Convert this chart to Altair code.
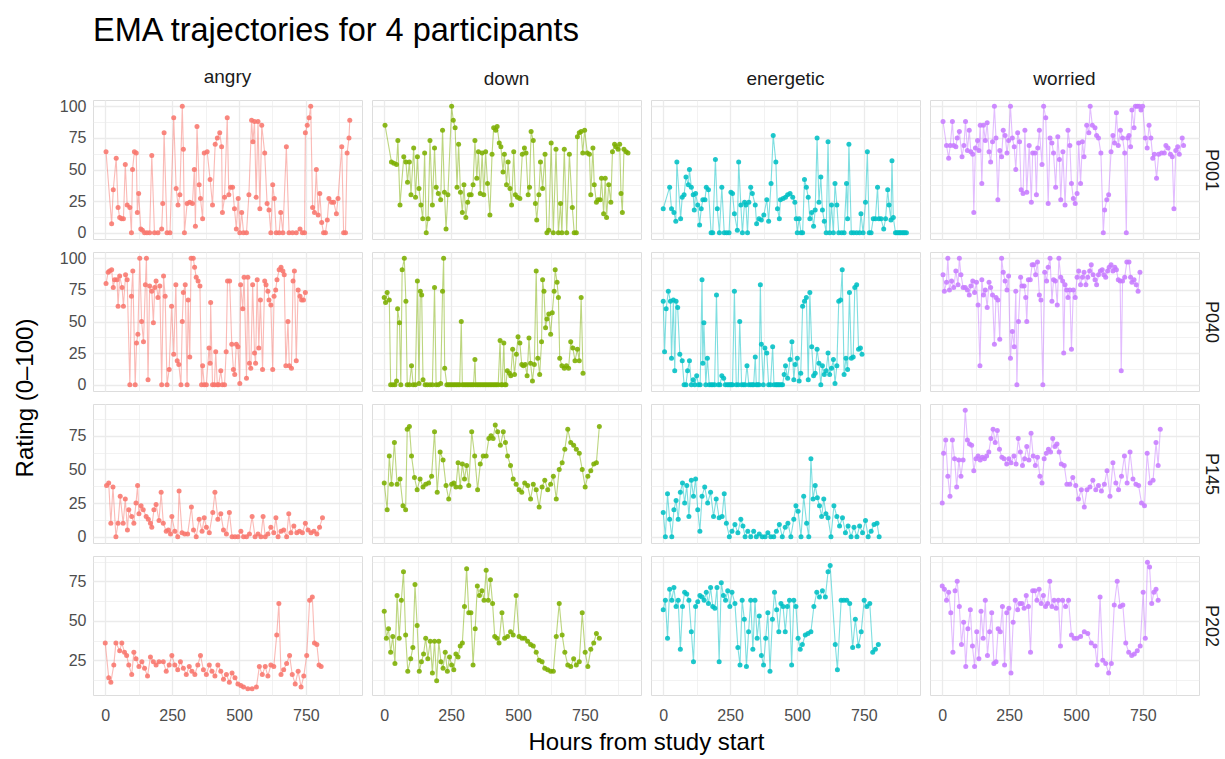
import altair as alt
import pandas as pd

FONT = "Liberation Sans"
participants = ["P001", "P040", "P145", "P202"]
emotions = ["angry", "down", "energetic", "worried"]
colors = ["#F8766D", "#7CAE00", "#00BFC4", "#C77CFF"]

# (hour, rating) pairs
p001_angry = [(3,64),(24,7),(30,34),(41,59),(48,20),(54,12),(61,11),(68,11),(75,54),(82,22),(92,20),(98,0),(102,50),(109,64),(116,63),(120,16),(125,31),(133,3),(139,2),(147,0),(156,0),(166,0),(174,61),(184,0),(197,0),(211,3),(215,23),(220,79),(231,0),(242,0),(256,91),(265,35),(272,22),(279,30),(288,100),(292,66),(296,0),(306,23),(316,24),(326,23),(333,50),(337,5),(343,84),(351,38),(356,27),(364,11),(370,63),(381,64),(392,42),(401,22),(411,70),(419,75),(428,79),(435,68),(438,16),(446,28),(456,91),(462,30),(469,36),(476,36),(483,19),(490,3),(497,27),(503,0),(510,16),(517,0),(528,0),(537,30),(547,89),(552,72),(558,88),(564,28),(571,88),(578,19),(585,85),(596,63),(605,23),(612,18),(619,0),(626,38),(632,27),(639,0),(650,0),(656,16),(664,0),(677,68),(687,0),(700,0),(714,0),(728,3),(737,0),(745,0),(748,79),(755,85),(762,91),(768,100),(775,20),(782,16),(789,50),(796,14),(802,31),(809,8),(816,0),(823,0),(830,10),(836,27),(846,24),(854,24),(864,15),(870,27),(884,68),(891,0),(898,0),(904,63),(911,75),(914,89)]
p001_down = [(3,85),(27,56),(36,55),(46,54),(51,73),(59,22),(73,60),(81,56),(87,40),(94,56),(100,30),(110,67),(117,28),(124,60),(130,35),(137,22),(144,11),(151,63),(157,0),(164,11),(171,73),(180,22),(188,67),(194,36),(202,31),(211,26),(218,81),(225,32),(231,3),(238,30),(252,100),(258,89),(265,83),(272,36),(278,70),(285,32),(292,16),(298,38),(305,12),(312,24),(318,30),(325,30),(332,38),(339,73),(346,43),(352,64),(359,31),(366,63),(372,30),(379,64),(386,39),(395,14),(403,62),(409,83),(417,81),(422,84),(430,71),(436,68),(444,48),(449,62),(457,38),(463,56),(470,35),(476,22),(484,64),(490,30),(498,28),(507,27),(516,62),(524,67),(530,63),(538,30),(543,36),(549,80),(557,73),(565,23),(570,10),(578,30),(584,56),(592,35),(601,62),(608,0),(615,2),(624,71),(632,0),(642,66),(651,0),(659,23),(664,0),(673,66),(682,0),(692,62),(703,20),(710,0),(718,0),(722,76),(729,79),(736,80),(742,63),(749,81),(759,63),(767,62),(772,30),(780,67),(785,38),(793,24),(799,26),(807,26),(812,43),(820,15),(826,43),(831,12),(839,38),(847,24),(853,64),(861,70),(866,68),(874,66),(880,70),(885,31),(890,16),(896,66),(904,64),(911,63)]
p001_energetic = [(0,19),(24,36),(31,19),(40,16),(47,9),(51,56),(65,11),(71,28),(78,30),(85,44),(94,38),(98,50),(105,36),(112,30),(116,18),(121,31),(129,22),(136,6),(142,19),(148,26),(156,26),(161,36),(169,34),(179,0),(185,0),(195,58),(202,19),(210,0),(219,36),(228,0),(237,0),(246,0),(253,32),(259,31),(266,15),(277,2),(282,56),(290,22),(296,0),(304,24),(309,22),(315,0),(320,24),(327,36),(333,31),(344,22),(349,7),(358,11),(367,10),(376,14),(387,26),(394,9),(403,39),(411,77),(421,56),(427,19),(434,11),(438,26),(448,27),(457,28),(465,30),(474,31),(484,28),(492,24),(497,11),(501,0),(508,11),(515,0),(521,0),(528,42),(535,36),(542,28),(548,11),(555,16),(562,5),(568,18),(575,75),(582,24),(589,44),(595,18),(602,9),(609,0),(616,72),(622,0),(629,22),(636,0),(642,39),(649,22),(656,0),(667,0),(676,0),(685,39),(689,11),(694,70),(703,0),(712,0),(723,0),(734,0),(739,15),(747,0),(756,24),(763,64),(770,0),(777,0),(785,11),(793,11),(801,36),(806,11),(814,11),(824,3),(831,11),(839,34),(844,22),(851,10),(855,57),(860,12),(868,0),(873,0),(878,0),(883,0),(887,0),(893,0),(898,0),(903,0),(909,0)]
p001_worried = [(3,88),(16,69),(24,59),(30,69),(38,88),(43,69),(51,68),(56,75),(64,80),(74,60),(81,69),(87,88),(94,65),(101,81),(107,64),(114,62),(118,16),(124,67),(132,73),(137,65),(142,85),(148,39),(154,85),(161,73),(168,87),(175,64),(181,56),(188,72),(195,100),(201,75),(208,26),(215,65),(222,60),(228,81),(235,77),(242,63),(248,73),(255,100),(262,75),(269,68),(275,50),(282,79),(289,72),(295,34),(302,31),(309,81),(316,32),(325,69),(333,24),(338,63),(347,63),(352,30),(357,67),(363,81),(373,54),(379,100),(387,91),(396,23),(403,75),(410,71),(416,63),(424,36),(432,76),(438,58),(443,26),(451,64),(459,22),(470,81),(477,69),(483,39),(490,27),(497,23),(504,31),(510,71),(517,39),(524,72),(530,60),(540,85),(548,79),(553,100),(561,85),(571,83),(577,77),(584,75),(593,63),(602,0),(607,18),(615,26),(622,30),(631,64),(638,77),(644,71),(651,95),(658,69),(666,81),(674,75),(682,63),(688,0),(693,75),(698,77),(704,68),(709,97),(717,83),(722,100),(729,100),(736,100),(743,97),(749,100),(759,75),(766,67),(773,85),(780,75),(787,59),(793,62),(801,43),(809,62),(820,63),(830,63),(836,69),(844,67),(853,62),(860,60),(866,19),(873,65),(880,68),(886,62),(897,75),(902,69)]

p040_angry = [(3,80),(11,89),(16,90),(24,91),(30,77),(35,83),(44,83),(48,62),(54,86),(63,77),(68,62),(76,87),(82,83),(92,0),(98,70),(103,90),(112,0),(117,33),(122,40),(129,100),(136,50),(143,34),(150,79),(154,100),(160,4),(166,78),(174,74),(180,49),(185,77),(190,82),(197,69),(204,78),(211,0),(218,86),(224,70),(231,0),(239,12),(248,62),(256,24),(264,79),(269,19),(275,16),(283,0),(288,50),(292,73),(299,79),(306,0),(310,67),(316,22),(321,100),(329,100),(334,93),(340,85),(347,82),(354,78),(360,0),(364,15),(370,0),(378,0),(388,29),(392,17),(394,65),(401,0),(408,0),(413,26),(419,0),(424,0),(432,11),(438,0),(446,0),(452,26),(457,82),(465,82),(473,32),(479,12),(484,8),(490,32),(496,30),(503,1),(506,79),(514,60),(519,85),(528,5),(533,85),(539,17),(544,13),(551,79),(558,25),(562,17),(568,83),(574,29),(580,67),(588,12),(596,82),(601,79),(608,74),(612,67),(619,63),(626,12),(631,70),(637,75),(642,83),(650,91),(657,93),(664,90),(669,87),(675,15),(683,50),(688,15),(696,13),(702,82),(707,90),(714,19),(721,75),(728,70),(734,67),(741,67),(748,73)]
p040_down = [(0,69),(5,65),(11,73),(19,67),(24,0),(32,0),(40,0),(46,3),(50,60),(57,49),(62,0),(67,91),(75,100),(81,66),(86,0),(94,0),(102,15),(108,0),(116,0),(124,82),(130,1),(135,74),(140,71),(145,4),(153,0),(161,0),(171,0),(180,0),(188,77),(194,0),(202,0),(211,1),(218,74),(222,100),(226,13),(234,0),(240,0),(246,0),(252,0),(258,0),(264,0),(270,0),(276,0),(282,0),(288,50),(292,0),(298,0),(304,0),(310,0),(316,0),(322,0),(328,0),(334,0),(339,20),(342,0),(348,0),(354,0),(360,0),(366,0),(372,0),(378,0),(384,0),(390,0),(396,0),(402,0),(408,0),(414,0),(420,0),(426,0),(433,35),(437,0),(441,0),(447,33),(451,0),(455,0),(460,11),(468,9),(473,7),(480,28),(487,8),(494,24),(500,38),(507,33),(514,16),(520,15),(527,16),(534,7),(541,37),(547,17),(554,3),(561,16),(568,90),(574,21),(581,8),(588,34),(592,83),(597,74),(603,45),(608,52),(615,56),(622,40),(628,57),(635,74),(639,91),(646,81),(651,69),(656,21),(664,15),(673,13),(681,15),(689,13),(697,34),(705,29),(713,19),(722,28),(729,19),(736,69),(743,9)]
p040_energetic = [(0,66),(5,26),(11,60),(19,74),(27,66),(31,21),(38,67),(43,11),(48,66),(54,61),(62,24),(71,19),(78,0),(85,0),(91,11),(98,19),(105,0),(112,4),(118,0),(125,7),(132,0),(138,0),(145,83),(148,17),(152,49),(159,0),(165,21),(172,0),(179,0),(185,0),(192,0),(199,71),(206,0),(212,0),(219,7),(226,5),(232,0),(239,0),(245,0),(250,0),(255,0),(259,0),(266,74),(273,0),(280,0),(286,50),(293,0),(300,0),(306,0),(313,15),(320,0),(327,0),(333,0),(338,0),(344,22),(348,0),(353,0),(358,0),(363,79),(367,32),(374,0),(380,29),(387,25),(394,0),(401,0),(409,30),(414,0),(421,0),(425,0),(430,0),(435,0),(441,0),(446,0),(452,8),(457,15),(465,5),(474,20),(481,34),(488,4),(493,16),(501,21),(508,3),(514,9),(521,62),(528,66),(535,69),(542,4),(548,73),(555,30),(562,7),(568,9),(575,28),(582,17),(589,0),(595,15),(602,8),(609,11),(616,25),(622,8),(629,13),(636,20),(642,1),(649,15),(656,66),(663,67),(669,91),(676,8),(683,21),(689,12),(696,73),(703,21),(710,22),(716,77),(723,79),(730,28),(737,29),(743,24)]
p040_worried = [(3,87),(8,74),(16,81),(21,100),(27,75),(35,82),(43,77),(51,90),(59,79),(64,100),(70,87),(78,77),(86,77),(94,75),(101,71),(107,78),(114,82),(121,73),(128,81),(134,63),(141,15),(148,83),(154,71),(161,75),(168,61),(175,81),(181,77),(188,71),(195,32),(201,69),(208,67),(215,36),(222,100),(228,89),(235,82),(242,75),(248,86),(255,21),(262,42),(269,30),(275,74),(279,0),(285,50),(293,85),(298,78),(306,78),(312,69),(316,50),(322,83),(329,83),(336,95),(342,95),(349,87),(356,97),(363,71),(369,67),(376,0),(383,89),(390,82),(396,93),(403,100),(410,66),(416,83),(423,82),(430,63),(436,100),(443,85),(450,82),(454,25),(459,79),(465,75),(470,69),(477,75),(483,28),(490,75),(497,69),(504,85),(510,90),(517,79),(524,85),(530,89),(537,79),(544,85),(551,90),(557,95),(564,87),(571,83),(577,79),(584,87),(591,90),(598,91),(604,87),(611,85),(618,90),(624,93),(631,95),(638,90),(645,93),(651,91),(658,83),(665,82),(669,11),(674,82),(682,85),(690,97),(698,97),(704,85),(709,81),(717,83),(725,79),(732,74),(739,89)]

p145_angry = [(5,38),(13,40),(21,10),(29,37),(40,0),(48,10),(56,30),(67,10),(75,28),(83,5),(88,20),(99,15),(107,10),(115,25),(121,38),(126,17),(134,23),(142,20),(153,15),(161,13),(169,10),(174,7),(182,20),(190,24),(201,12),(209,33),(217,10),(228,4),(236,5),(244,2),(249,15),(260,4),(271,0),(276,34),(287,3),(297,2),(308,2),(322,22),(330,5),(340,0),(351,13),(362,4),(370,14),(378,7),(389,3),(402,18),(410,33),(421,13),(432,17),(442,5),(453,2),(464,18),(474,0),(485,0),(496,0),(507,4),(517,0),(528,0),(539,2),(549,15),(560,0),(571,2),(582,0),(590,15),(598,0),(608,2),(619,7),(630,3),(638,14),(646,0),(657,4),(667,5),(678,0),(686,17),(694,3),(705,8),(716,3),(726,4),(737,3),(748,10),(758,5),(769,3),(780,4),(791,2),(801,7),(812,14)]
p145_down = [(0,40),(11,20),(19,60),(27,39),(38,70),(48,39),(59,43),(70,23),(80,20),(86,80),(94,82),(102,60),(113,44),(123,35),(134,43),(145,37),(155,39),(166,40),(177,45),(188,78),(198,33),(209,63),(220,57),(231,38),(241,28),(252,39),(260,40),(268,37),(276,55),(284,37),(292,54),(300,43),(308,53),(316,38),(327,78),(338,60),(349,35),(359,54),(370,60),(381,60),(391,73),(399,75),(407,73),(415,83),(424,78),(434,68),(445,78),(453,70),(461,60),(472,53),(482,43),(493,39),(504,35),(514,33),(525,40),(536,38),(547,28),(557,39),(568,35),(579,22),(590,37),(600,42),(611,35),(622,39),(632,45),(643,28),(654,50),(665,55),(675,65),(686,80),(697,70),(708,68),(718,65),(729,62),(740,50),(751,37),(761,45),(772,49),(783,54),(793,55),(804,82)]
p145_energetic = [(0,18),(8,0),(16,32),(24,13),(32,0),(40,20),(48,27),(56,13),(64,33),(72,40),(80,25),(88,38),(96,15),(105,42),(113,30),(121,43),(129,20),(137,4),(145,30),(155,37),(166,25),(177,33),(188,15),(198,28),(209,14),(220,15),(228,32),(236,10),(247,0),(257,4),(268,9),(279,3),(290,13),(298,8),(306,0),(316,4),(327,0),(338,4),(348,0),(359,2),(370,0),(381,0),(391,3),(402,0),(413,0),(423,4),(434,9),(445,0),(456,7),(466,10),(477,0),(488,13),(496,23),(504,19),(515,0),(525,30),(536,10),(544,0),(552,58),(560,28),(568,38),(576,29),(584,23),(592,15),(600,28),(608,17),(616,14),(627,0),(638,23),(649,15),(659,8),(670,14),(681,3),(691,8),(702,0),(713,7),(724,0),(734,8),(745,3),(756,12),(766,0),(777,4),(788,9),(799,10),(807,0)]
p145_worried = [(0,25),(5,62),(13,72),(21,45),(29,30),(38,72),(46,58),(54,37),(62,57),(70,45),(78,57),(86,94),(94,72),(102,69),(110,68),(118,49),(126,58),(134,60),(142,57),(150,59),(158,58),(166,60),(174,63),(182,73),(190,80),(198,70),(206,79),(214,65),(223,59),(231,58),(241,54),(249,58),(257,55),(268,60),(276,54),(284,73),(292,63),(300,53),(308,58),(316,67),(324,57),(332,77),(340,60),(348,53),(356,59),(365,45),(373,40),(381,58),(389,62),(397,65),(405,63),(413,73),(421,67),(429,69),(437,63),(445,54),(456,53),(466,39),(477,39),(488,44),(499,38),(509,28),(520,35),(531,22),(541,35),(552,37),(563,42),(574,35),(584,38),(595,34),(606,39),(616,49),(627,30),(638,55),(649,40),(659,35),(670,45),(681,60),(691,40),(702,63),(713,43),(724,39),(734,38),(745,25),(756,23),(766,62),(777,40),(788,42),(799,70),(807,53),(815,80)]

p202_angry = [(0,36),(13,14),(21,11),(32,22),(40,36),(54,31),(62,36),(72,30),(80,28),(88,22),(99,16),(107,30),(115,26),(126,21),(137,24),(147,20),(158,15),(169,27),(180,24),(190,22),(201,24),(217,24),(228,18),(239,22),(249,28),(260,22),(271,19),(281,24),(292,20),(303,16),(314,21),(324,18),(335,16),(346,22),(356,28),(367,19),(378,16),(389,22),(399,18),(410,15),(421,22),(432,18),(442,13),(453,16),(464,11),(474,17),(485,14),(496,10),(507,9),(517,8),(533,7),(549,7),(565,8),(576,21),(587,16),(598,21),(608,15),(619,22),(630,21),(641,41),(649,61),(657,16),(667,19),(678,23),(689,28),(699,16),(710,10),(721,18),(732,8),(742,15),(753,28),(764,63),(774,65),(782,36),(791,35),(799,22),(807,21)]
p202_down = [(0,56),(8,39),(16,45),(24,30),(32,40),(40,23),(48,66),(56,39),(64,63),(72,81),(80,41),(88,18),(99,26),(107,33),(115,73),(123,47),(131,18),(139,24),(147,29),(155,39),(163,26),(172,37),(180,17),(188,37),(196,12),(204,37),(212,24),(220,20),(228,30),(236,18),(244,27),(252,22),(260,19),(268,29),(276,27),(284,34),(292,36),(300,59),(308,83),(316,55),(324,55),(332,22),(340,45),(348,72),(356,66),(365,69),(373,63),(381,82),(389,63),(397,76),(405,61),(413,40),(421,39),(429,36),(440,55),(450,39),(461,40),(472,43),(482,41),(493,66),(504,40),(515,39),(525,39),(536,37),(547,35),(557,34),(568,30),(579,25),(590,24),(600,20),(611,19),(622,18),(632,18),(643,40),(654,61),(665,41),(675,30),(686,22),(697,21),(708,26),(718,22),(729,24),(740,55),(751,30),(761,21),(772,32),(783,36),(793,42),(804,39)]
p202_energetic = [(0,57),(8,63),(16,39),(24,70),(32,63),(40,71),(48,59),(56,63),(64,32),(72,59),(80,68),(88,67),(96,63),(105,43),(113,24),(121,59),(129,62),(137,66),(145,65),(153,63),(161,68),(169,61),(177,71),(185,59),(193,58),(201,71),(209,24),(217,74),(225,66),(233,63),(241,69),(249,59),(257,68),(268,61),(279,33),(287,22),(295,63),(303,51),(311,21),(319,43),(327,63),(335,32),(343,63),(351,39),(359,53),(367,28),(375,22),(383,39),(391,55),(399,18),(408,51),(416,68),(424,57),(432,43),(440,61),(448,59),(456,43),(464,59),(472,63),(480,22),(488,63),(496,59),(504,39),(512,32),(520,35),(531,41),(541,42),(552,43),(563,59),(574,68),(584,65),(595,69),(606,65),(616,81),(624,85),(643,35),(651,19),(665,63),(675,63),(686,63),(697,61),(708,33),(718,51),(729,34),(740,43),(751,63),(761,59),(772,61),(783,30),(793,32),(804,35)]
p202_worried = [(0,72),(8,70),(16,63),(24,68),(32,55),(40,30),(48,69),(56,75),(64,59),(72,35),(80,49),(88,21),(96,45),(105,57),(113,34),(121,21),(129,43),(137,26),(145,56),(153,39),(161,63),(169,28),(177,43),(185,55),(193,23),(201,24),(209,45),(217,43),(225,59),(233,22),(241,55),(249,58),(257,17),(265,49),(273,63),(282,57),(290,61),(298,61),(306,58),(314,66),(322,59),(330,30),(338,69),(346,69),(354,63),(362,70),(370,61),(378,66),(386,59),(394,61),(402,75),(410,59),(418,63),(426,58),(434,63),(442,34),(450,63),(461,59),(472,63),(483,41),(493,39),(504,39),(517,40),(531,43),(544,42),(557,36),(571,34),(579,22),(590,65),(600,25),(611,23),(622,17),(632,23),(643,60),(654,75),(665,59),(675,60),(686,36),(697,30),(708,28),(718,29),(729,31),(740,34),(751,68),(759,39),(767,87),(775,84),(783,61),(791,68),(799,70),(807,63)]

series = {
    ("P001", "angry"): p001_angry, ("P001", "down"): p001_down,
    ("P001", "energetic"): p001_energetic, ("P001", "worried"): p001_worried,
    ("P040", "angry"): p040_angry, ("P040", "down"): p040_down,
    ("P040", "energetic"): p040_energetic, ("P040", "worried"): p040_worried,
    ("P145", "angry"): p145_angry, ("P145", "down"): p145_down,
    ("P145", "energetic"): p145_energetic, ("P145", "worried"): p145_worried,
    ("P202", "angry"): p202_angry, ("P202", "down"): p202_down,
    ("P202", "energetic"): p202_energetic, ("P202", "worried"): p202_worried,
}

records = []
for (pid, emo), pts in series.items():
    for h, v in pts:
        records.append({"pid": pid, "emotion": emo, "hour": h, "rating": v})
df = pd.DataFrame(records)


def expand(lo, hi, f=0.05):
    r = hi - lo
    return [lo - f * r, hi + f * r]


xdom = expand(df.hour.min(), df.hour.max())
ydoms = {p: expand(df[df.pid == p].rating.min(), df[df.pid == p].rating.max()) for p in participants}

W, H = 269, 139
XGAP, YGAP = 10, 13
x_vals = [v for v in [0, 125, 250, 375, 500, 625, 750, 875] if xdom[0] <= v <= xdom[1]]
y_all = [i * 12.5 for i in range(9)]

gw_x = {"condition": {"test": "datum.value % 250 === 0", "value": 1.3}, "value": 0.65}
gw_y = {"condition": {"test": "datum.value % 25 === 0", "value": 1.3}, "value": 0.65}
GRID = "#ebebeb"
LABEL_COLOR = "#4d4d4d"
LABEL_SIZE = 16
AXIS_TITLE_SIZE = 24
STRIP_SIZE = 19


def cell(i, j):
    pid, emo = participants[i], emotions[j]
    d = df[(df.pid == pid) & (df.emotion == emo)]
    ylo, yhi = ydoms[pid]
    yvals = [v for v in y_all if ylo <= v <= yhi]
    ycommon = dict(grid=True, gridColor=GRID, gridWidth=gw_y, domain=False, ticks=False, values=yvals)
    if j == 0:
        if i == 1:
            ytitle = dict(title="Rating (0–100)", titleY=H + YGAP / 2, titleFont=FONT,
                          titleFontSize=AXIS_TITLE_SIZE, titleFontWeight="normal",
                          titleColor="black", titlePadding=22)
        else:
            ytitle = dict(title=None)
        yaxis = alt.Axis(orient="left", labels=True,
                         labelExpr="datum.value % 25 === 0 ? format(datum.value, 'd') : ''",
                         labelFont=FONT, labelFontSize=LABEL_SIZE, labelColor=LABEL_COLOR,
                         labelPadding=7, minExtent=34, maxExtent=34, **ytitle, **ycommon)
    elif j == 3:
        yaxis = alt.Axis(orient="right", labels=False, title=pid, titleAngle=90,
                         titleFont=FONT, titleFontSize=STRIP_SIZE - 1, titleFontWeight="normal",
                         titleColor="#1a1a1a", titlePadding=2, minExtent=0, maxExtent=0, **ycommon)
    else:
        yaxis = alt.Axis(labels=False, title=None, minExtent=0, maxExtent=0, **ycommon)

    xcommon = dict(grid=True, gridColor=GRID, gridWidth=gw_x, domain=False, ticks=False, values=x_vals)
    if i == 3:
        if j == 1:
            xtitle = dict(title="Hours from study start",
                          titleX=(4 * W + 3 * XGAP) / 2 - (W + XGAP),
                          titleFont=FONT, titleFontSize=AXIS_TITLE_SIZE, titleFontWeight="normal",
                          titleColor="black", titlePadding=7)
        else:
            xtitle = dict(title=None)
        xaxis = alt.Axis(labels=True,
                         labelExpr="datum.value % 250 === 0 ? format(datum.value, 'd') : ''",
                         labelFont=FONT, labelFontSize=LABEL_SIZE, labelColor=LABEL_COLOR,
                         labelPadding=12, **xtitle, **xcommon)
    else:
        xaxis = alt.Axis(labels=False, title=None, minExtent=0, maxExtent=0, **xcommon)

    base = alt.Chart(d).encode(
        x=alt.X("hour:Q", scale=alt.Scale(domain=xdom, nice=False, zero=False), axis=xaxis),
        y=alt.Y("rating:Q", scale=alt.Scale(domain=[ylo, yhi], nice=False, zero=False), axis=yaxis),
    )
    line = base.mark_line(color=colors[j], strokeWidth=1.1, opacity=0.5)
    pts = base.mark_circle(color=colors[j], size=25, opacity=0.88)
    ch = alt.layer(line, pts).properties(width=W, height=H)
    if i == 0:
        ch = ch.properties(title=alt.TitleParams(emo, font=FONT, fontSize=STRIP_SIZE, fontWeight="normal",
                                                 color="#1a1a1a", offset=11, frame="group", anchor="middle"))
    return ch


cells = [cell(i, j) for i in range(4) for j in range(4)]
chart = alt.concat(*cells, columns=4, spacing={"row": YGAP, "column": XGAP}, bounds="flush").properties(
    title=alt.TitleParams("EMA trajectories for 4 participants", font=FONT, fontSize=32.5,
                          fontWeight="normal", color="black", anchor="start", frame="group", offset=20),
    padding={"left": 12, "top": 15, "right": 4, "bottom": 0},
).configure_view(strokeWidth=0).configure(background="white")

chart.save("out.html", embed_options={"renderer": "svg", "actions": False})
